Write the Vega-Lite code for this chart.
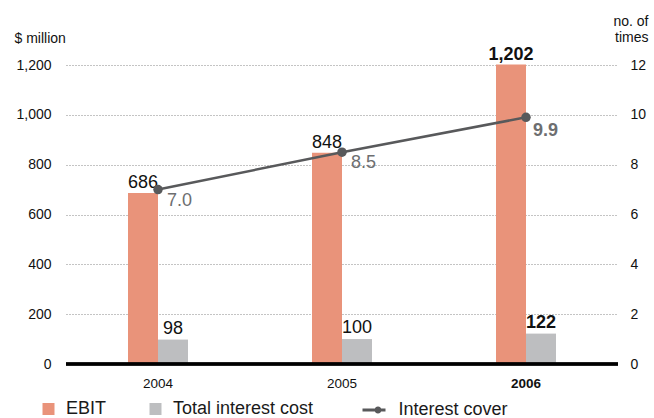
{
  "$schema": "https://vega.github.io/schema/vega-lite/v6.json",
  "width": 552,
  "height": 299,
  "autosize": "none",
  "padding": {"left": 66, "top": 65, "right": 36, "bottom": 54},
  "config": {"view": {"stroke": null}, "font": "Liberation Sans"},
  "data": {
    "values": [
      {"year": "2004", "EBIT": 686, "interest": 98, "cover": 7.0},
      {"year": "2005", "EBIT": 848, "interest": 100, "cover": 8.5},
      {"year": "2006", "EBIT": 1202, "interest": 122, "cover": 9.9}
    ]
  },
  "encoding": {
    "x": {
      "field": "year",
      "type": "ordinal",
      "scale": {"paddingInner": 0, "paddingOuter": 0},
      "axis": {
        "title": null,
        "labelAngle": 0,
        "domain": false,
        "ticks": false,
        "labelPadding": 12,
        "labelFont": "Liberation Sans",
        "labelFontSize": 13.5,
        "labelColor": "#111111",
        "labelFontWeight": {"condition": {"test": "datum.value == '2006'", "value": "bold"}, "value": "normal"}
      }
    }
  },
  "layer": [
    {
      "encoding": {
        "y": {
          "type": "quantitative",
          "scale": {"domain": [0, 1200], "nice": false}
        }
      },
      "layer": [
        {
          "mark": {"type": "bar", "width": 30, "xOffset": -15},
          "encoding": {
            "y": {
              "field": "EBIT",
              "type": "quantitative",
              "scale": {"domain": [0, 1200], "nice": false},
              "axis": {
                "title": "$ million",
                "titleAngle": 0,
                "titleAlign": "left",
                "titleBaseline": "alphabetic",
                "titleX": -52,
                "titleY": -23,
                "titleFontSize": 14,
                "titleFontWeight": "normal",
                "titleColor": "#111111",
                "values": [0, 200, 400, 600, 800, 1000, 1200],
                "format": ",d",
                "labelFontSize": 14,
                "labelColor": "#111111",
                "labelPadding": 15,
                "ticks": false,
                "domain": false,
                "grid": true,
                "gridDash": [1, 2],
                "gridColor": "#888888",
                "gridWidth": 1
              }
            },
            "color": {
              "datum": "EBIT",
              "scale": {"domain": ["EBIT", "Total interest cost"], "range": ["#E9937A", "#BDBEC0"]},
              "legend": {
                "title": null,
                "orient": "none",
                "legendX": -26.5,
                "legendY": 335,
                "direction": "horizontal",
                "symbolType": "square",
                "symbolSize": 144,
                "symbolStrokeWidth": 0,
                "labelFontSize": 18,
                "labelColor": "#1a1a1a",
                "labelOffset": 8.5,
                "columnPadding": 40,
                "padding": 0
              }
            }
          }
        },
        {
          "mark": {"type": "bar", "width": 30, "xOffset": 15},
          "encoding": {
            "y": {"field": "interest", "type": "quantitative"},
            "color": {"datum": "Total interest cost"}
          }
        },
        {
          "transform": [{"filter": "datum.year != '2006'"}],
          "mark": {"type": "text", "xOffset": -15, "dy": -5, "baseline": "alphabetic", "fontSize": 18, "color": "#111111"},
          "encoding": {
            "y": {"field": "EBIT", "type": "quantitative"},
            "text": {"field": "EBIT", "type": "quantitative", "format": ","}
          }
        },
        {
          "transform": [{"filter": "datum.year == '2006'"}],
          "mark": {"type": "text", "xOffset": -15, "dy": -5, "baseline": "alphabetic", "fontSize": 18, "fontWeight": "bold", "color": "#111111"},
          "encoding": {
            "y": {"field": "EBIT", "type": "quantitative"},
            "text": {"field": "EBIT", "type": "quantitative", "format": ","}
          }
        },
        {
          "transform": [{"filter": "datum.year != '2006'"}],
          "mark": {"type": "text", "xOffset": 15, "dy": -6, "baseline": "alphabetic", "fontSize": 18, "color": "#111111"},
          "encoding": {
            "y": {"field": "interest", "type": "quantitative"},
            "text": {"field": "interest", "type": "quantitative", "format": ","}
          }
        },
        {
          "transform": [{"filter": "datum.year == '2006'"}],
          "mark": {"type": "text", "xOffset": 15, "dy": -6, "baseline": "alphabetic", "fontSize": 18, "fontWeight": "bold", "color": "#111111"},
          "encoding": {
            "y": {"field": "interest", "type": "quantitative"},
            "text": {"field": "interest", "type": "quantitative", "format": ","}
          }
        },
        {
          "mark": {"type": "rule", "color": "#000000", "strokeWidth": 3},
          "encoding": {
            "x": null,
            "y": {"datum": 0, "type": "quantitative"}
          }
        }
      ]
    },
    {
      "encoding": {
        "y": {
          "field": "cover",
          "type": "quantitative",
          "scale": {"domain": [0, 12], "nice": false},
          "axis": {
            "orient": "right",
            "title": ["no. of", "times"],
            "titleAngle": 0,
            "titleAlign": "right",
            "titleBaseline": "alphabetic",
            "titleX": 30,
            "titleY": -40,
            "titleLineHeight": 16,
            "titleFontSize": 14,
            "titleFontWeight": "normal",
            "titleColor": "#111111",
            "values": [0, 2, 4, 6, 8, 10, 12],
            "labelFontSize": 14,
            "labelColor": "#111111",
            "labelPadding": 12,
            "ticks": false,
            "domain": false,
            "grid": false
          }
        }
      },
      "layer": [
        {
          "mark": {"type": "line", "color": "#58595B", "strokeWidth": 2.5}
        },
        {
          "mark": {"type": "point", "filled": true, "opacity": 1, "color": "#58595B", "size": 90}
        },
        {
          "transform": [{"filter": "false"}],
          "mark": {"type": "point", "filled": true, "opacity": 1, "color": "#58595B"},
          "encoding": {
            "shape": {
              "datum": "Interest cover",
              "scale": {"domain": ["Interest cover"], "range": ["M-2.3,-0.3L2.3,-0.3L2.3,0.3L-2.3,0.3Z M1.5,0A0.7,0.7 0 1,1 0.1,0A0.7,0.7 0 1,1 1.5,0Z"]},
              "legend": {
                "title": null,
                "orient": "none",
                "legendX": 299,
                "legendY": 336,
                "symbolSize": 100,
                "symbolStrokeWidth": 0,
                "symbolFillColor": "#58595B",
                "labelFontSize": 18,
                "labelColor": "#1a1a1a",
                "labelOffset": 15.5,
                "padding": 0
              }
            }
          }
        },
        {
          "transform": [{"filter": "datum.year != '2006'"}],
          "mark": {"type": "text", "align": "left", "baseline": "alphabetic", "dx": 9, "dy": 16, "fontSize": 18, "color": "#6D6E70"},
          "encoding": {
            "text": {"field": "cover", "type": "quantitative", "format": ".1f"}
          }
        },
        {
          "transform": [{"filter": "datum.year == '2006'"}],
          "mark": {"type": "text", "align": "left", "baseline": "alphabetic", "dx": 7, "dy": 19, "fontSize": 18, "fontWeight": "bold", "color": "#6D6E70"},
          "encoding": {
            "text": {"field": "cover", "type": "quantitative", "format": ".1f"}
          }
        }
      ]
    }
  ],
  "resolve": {"scale": {"y": "independent"}}
}
